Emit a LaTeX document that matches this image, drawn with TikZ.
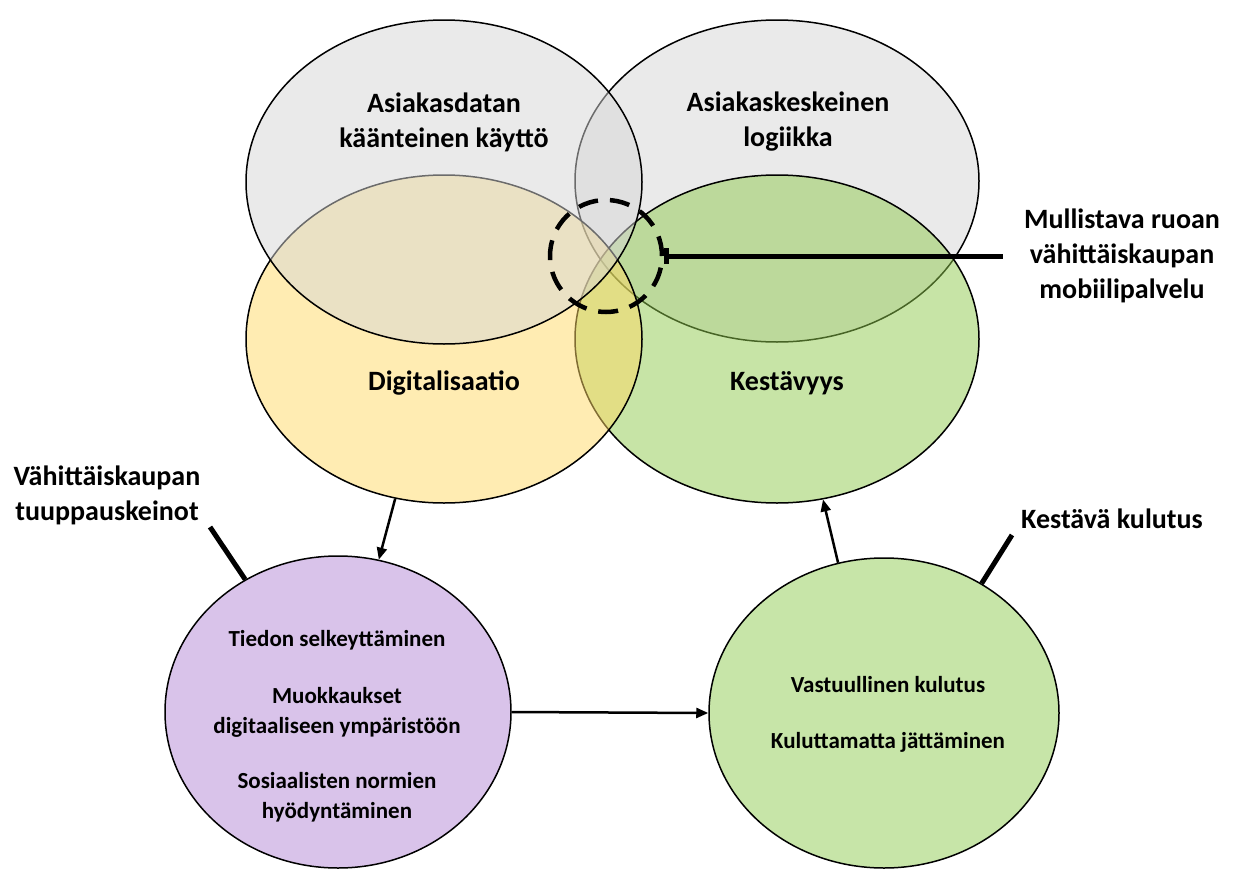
\documentclass[tikz,border=0pt]{standalone}
\usepackage{fontspec}
\setmainfont{Carlito}
\usetikzlibrary{shapes.geometric,arrows.meta}
\definecolor{greyc}{HTML}{D6D6D6}
\definecolor{yellowb}{HTML}{FFD966}
\definecolor{greenb}{HTML}{8FC94D}
\definecolor{purp}{HTML}{D9C3EA}
\definecolor{greenc}{HTML}{C7E5A8}
\begin{document}
\begin{tikzpicture}[x=1pt,y=-1pt,
 venn/.style={ellipse,draw=black,line width=1.5pt,fill opacity=0.5,inner sep=0pt},
 bubble/.style={ellipse,draw=black,line width=1.5pt,inner sep=0pt},
 big/.style={font=\bfseries\fontsize{28}{35}\selectfont,align=center,text=black},
 small/.style={font=\bfseries\fontsize{23}{30}\selectfont,align=center,text=black},
 conn/.style={line width=2.5pt,-{Triangle[length=12pt,width=10pt]}},
 tag/.style={line width=5pt}
]
\useasboundingbox (0,0) rectangle (1237,870);
% Venn ellipses (drawing order matters for overlaps)
\node[venn,fill=greyc,minimum width=404pt,minimum height=322pt] (tr) at (777,181) {};
\node[venn,fill=greenb,minimum width=404pt,minimum height=328pt] (ks) at (777,339) {};
\node[venn,fill=yellowb,minimum width=396pt,minimum height=328pt] (dg) at (444,339) {};
\node[venn,fill=greyc,minimum width=396pt,minimum height=324pt] (tl) at (444,182) {};
% dashed circle
\node[circle,draw=black,line width=4.5pt,dash pattern=on 20pt off 12pt,minimum size=112pt,inner sep=0pt] (dc) at (606,256) {};
% lower bubbles
\node[bubble,fill=purp,minimum width=346pt,minimum height=312pt] (pu) at (338,712) {};
\node[bubble,fill=greenc,minimum width=350pt,minimum height=310pt] (gr) at (884,713) {};
% texts
\node[big] (t1) at (444,122) {Asiakasdatan\\käänteinen käyttö};
\node[big] (t2) at (788,122) {Asiakaskeskeinen\\logiikka};
\node[big] (t3) at (444,383) {Digitalisaatio};
\node[big] (t4) at (787,383) {Kestävyys};
\node[big] (lm) at (1122,256) {Mullistava ruoan\\vähittäiskaupan\\mobiilipalvelu};
\node[big] (lv) at (107,495) {Vähittäiskaupan\\tuuppauskeinot};
\node[big] (lk) at (1112,519) {Kestävä kulutus};
\node[small] (s1) at (337,640) {Tiedon selkeyttäminen};
\node[small] (s2) at (337,712) {Muokkaukset\\digitaaliseen ympäristöön};
\node[small] (s3) at (337,797) {Sosiaalisten normien\\hyödyntäminen};
\node[small] (s4) at (888,685) {Vastuullinen kulutus};
\node[small] (s5) at (888,742) {Kuluttamatta jättäminen};
% connectors
\coordinate (mend) at (1003,256);
\draw[tag,{Bar[width=16pt]}-] (dc.east) -- (mend);
\draw[conn] (dg.253) -- (pu.75);
\draw[conn] (gr.107) -- (ks.286);
\draw[conn] (pu.east) -- (gr.west);
\coordinate (tt) at (210,527);
\draw[tag] (tt) -- (pu.125);
\coordinate (kt) at (1012,535);
\draw[tag] (kt) -- (gr.53);
\end{tikzpicture}
\end{document}
